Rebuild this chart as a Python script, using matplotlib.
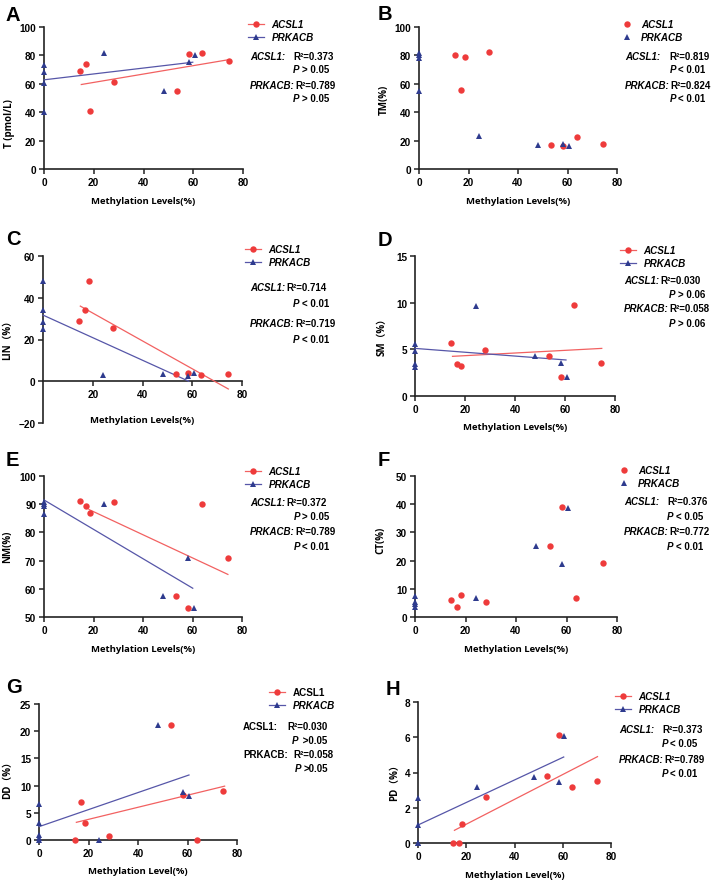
import matplotlib
matplotlib.use("Agg")
import matplotlib.pyplot as plt
from matplotlib.lines import Line2D

plt.rcParams["font.family"] = ["Liberation Sans", "DejaVu Sans"]
plt.rcParams["font.weight"] = "bold"

W, H = 714, 887
RED, BLUE = "#ee3b3b", "#2e3b8e"
RED_LINE, BLUE_LINE = "#f26161", "#5656a8"
LABEL_FONT = ["Open Sans", "Noto Sans CJK SC", "DejaVu Sans"]

# ---- data (methylation %, phenotype value) ----
acsl1_x = [14.4, 16.8, 18.4, 28.1, 53.4, 58.3, 63.7, 74.4]
prkacb_x = [0, 0, 0, 0, 24.3, 48.1, 58.3, 60.6]

A_acsl1 = [68.9, 73.6, 40.5, 61.4, 54.8, 80.7, 81.9, 75.8]
A_prkacb = [72.9, 68.2, 60.7, 39.8, 81.6, 54.6, 75.6, 80.5]
A_acsl1_fit = ([15.0, 74.3], [59.5, 77.0])
A_prkacb_fit = ([0.0, 59.8], [62.8, 75.2])

B_acsl1 = [80.0, 55.3, 78.6, 82.1, 16.9, 16.5, 22.8, 17.4]
B_prkacb = [81.6, 80.0, 78.1, 54.6, 23.0, 16.9, 17.4, 16.2]

C_acsl1 = [28.7, 34.2, 48.2, 25.3, 3.7, 4.0, 3.0, 3.3]
C_prkacb = [47.9, 34.2, 28.2, 25.0, 3.0, 3.5, 2.7, 4.0]
C_acsl1_fit = ([15.0, 74.5], [36.0, -3.7])
C_prkacb_fit = ([0.0, 58.6], [31.7, 0.0])

D_acsl1 = [5.7, 3.4, 3.2, 4.9, 4.3, 2.0, 9.7, 3.5]
D_prkacb = [5.6, 4.8, 3.4, 3.1, 9.6, 4.3, 3.5, 2.0]
D_acsl1_fit = ([15.0, 74.7], [4.25, 5.1])
D_prkacb_fit = ([0.0, 60.4], [5.1, 3.86])

E_acsl1 = [91.2, 89.5, 87.0, 90.9, 57.3, 53.2, 90.1, 70.8]
E_prkacb = [90.9, 90.0, 89.4, 86.6, 89.9, 57.3, 70.8, 53.2]
E_acsl1_fit = ([18.2, 74.3], [88.1, 65.1])
E_prkacb_fit = ([0.0, 60.1], [91.5, 60.2])

F_acsl1 = [6.0, 3.6, 7.9, 5.2, 25.3, 39.1, 6.8, 19.1]
F_prkacb = [7.6, 5.3, 4.5, 3.4, 6.7, 25.2, 18.9, 38.8]

G_acsl1 = [0.0, 6.9, 3.2, 0.7, 21.1, 8.2, 0.0, 9.0]
G_prkacb_x = [0, 0, 0, 0, 0, 24.3, 48.1, 58.3, 60.6]
G_prkacb = [6.7, 3.1, 0.9, 0.4, 0.0, 0.0, 21.1, 8.9, 8.1]
G_acsl1_fit = ([15.1, 75.0], [3.25, 9.9])
G_prkacb_fit = ([0.0, 60.6], [2.45, 11.95])

H_acsl1 = [0.0, 0.0, 1.1, 2.6, 3.8, 6.1, 3.2, 3.5]
H_prkacb = [2.55, 1.04, 0.0, 0.0, 3.2, 3.75, 3.48, 6.07]
H_acsl1_fit = ([15.1, 74.4], [0.72, 4.9])
H_prkacb_fit = ([0.0, 60.4], [1.02, 4.88])

fig = plt.figure(figsize=(W / 100, H / 100), dpi=100)
renderer = fig.canvas.get_renderer()


def fx(x):
    return x / W


def fy(y):
    return 1 - y / H


def panel(letter, box, xs, ys, xlabel, ylabel, ylim, yticks, fits, lab_pos,
          legend_pos, stats, gene_italic=True, xticks=(0, 20, 40, 60, 80), zero_axis=False):
    left, right, top, bottom = box
    ax = fig.add_axes([fx(left), fy(bottom), (right - left) / W, (bottom - top) / H])
    for s in ("top", "right"):
        ax.spines[s].set_visible(False)
    for s in ("left", "bottom"):
        ax.spines[s].set_linewidth(1.2)
        ax.spines[s].set_color("#222222")
    if zero_axis:
        ax.spines["bottom"].set_position(("data", 0))

    ax.plot(xs[0], ys[0], "o", color=RED, ms=4.6, mew=0, clip_on=False, zorder=4)
    ax.plot(xs[1], ys[1], "^", color=BLUE, ms=4.6, mew=0, clip_on=False, zorder=4)
    if fits:
        ax.plot(fits[0][0], fits[0][1], color=RED_LINE, lw=0.9, clip_on=False, zorder=3)
        ax.plot(fits[1][0], fits[1][1], color=BLUE_LINE, lw=0.9, clip_on=False, zorder=3)
    ax.set_xlim(0, 80)
    ax.set_ylim(*ylim)
    ax.set_xticks(list(xticks))
    ax.set_yticks(yticks)
    ax.tick_params(length=3.5, width=1.1, pad=2, color="#222222", labelsize=7.2)

    hpx = bottom - top
    wpx = right - left
    ax.set_xlabel(xlabel, fontfamily=LABEL_FONT, fontweight="bold", fontsize=6.8, va="center")
    ax.set_ylabel(ylabel, fontfamily=LABEL_FONT, fontweight="bold", fontsize=7.0, va="center")
    ax.xaxis.set_label_coords(0.5, -lab_pos[0] / hpx)
    ax.yaxis.set_label_coords(-lab_pos[1] / wpx, (bottom - lab_pos[2]) / hpx)

    fig.text(fx(letter[1]), fy(letter[2]), letter[0], fontsize=14.5, fontweight="bold",
             va="top", ha="left")

    # legend
    ls = "-" if fits else "none"
    handles = [
        Line2D([], [], color=RED_LINE, ls=ls, lw=0.9, marker="o", ms=4.6, mfc=RED, mec=RED, mew=0),
        Line2D([], [], color=BLUE_LINE, ls=ls, lw=0.9, marker="^", ms=4.6, mfc=BLUE, mec=BLUE, mew=0),
    ]
    leg = ax.legend(handles, ["ACSL1", "PRKACB"], loc="upper left",
                    bbox_to_anchor=(fx(legend_pos[0]), fy(legend_pos[1])),
                    bbox_transform=fig.transFigure, frameon=False, borderpad=0,
                    borderaxespad=0, handlelength=1.6 if fits else 1.1,
                    handletextpad=0.8, labelspacing=0.35,
                    prop=dict(weight="bold", size=7.1, style="italic"))
    if legend_pos[2]:
        leg.get_texts()[0].set_fontstyle("normal")

    # statistics text
    gx, rows = stats
    for name, r2, p, rx, px, yr, yp in rows:
        g = fig.text(fx(gx), fy(yr), name + ":", fontstyle="italic" if gene_italic else "normal",
                     fontsize=7.0, va="center")
        gend = g.get_window_extent(renderer).x1
        rx = max(rx, gend + 1)
        fig.text(fx(rx), fy(yr), "R²=" + r2, fontsize=7.0, va="center")
        fig.text(fx(px), fy(yp), "P", fontstyle="italic", fontsize=7.0, va="center")
        fig.text(fx(px + 8.5), fy(yp), p, fontsize=7.0, va="center")
    return ax


panel(("A", 6, 6), (44, 243, 28, 170), (acsl1_x, prkacb_x), (A_acsl1, A_prkacb),
      "Methylation Levels(%)", "T (pmol/L)", (0, 100), [0, 20, 40, 60, 80, 100],
      (A_acsl1_fit, A_prkacb_fit), (32, 34, 124), (248, 20, False),
      (250, [("ACSL1", "0.373", "> 0.05", 293, 293, 57, 70),
             ("PRKACB", "0.789", "> 0.05", 288, 293, 86, 99)]))

panel(("B", 378, 5), (419, 617, 28, 170), (acsl1_x, prkacb_x), (B_acsl1, B_prkacb),
      "Methylation Levels(%)", "TM(%)", (0, 100), [0, 20, 40, 60, 80, 100],
      None, (32, 35, 100), (622, 20, False),
      (625, [("ACSL1", "0.819", "< 0.01", 669, 670, 57, 70),
             ("PRKACB", "0.824", "< 0.01", 667, 670, 86, 99)]))

panel(("C", 6, 230), (43, 242, 257, 424), (acsl1_x, prkacb_x), (C_acsl1, C_prkacb),
      "Methylation Levels(%)", "LIN（%）", (-20, 60), [-20, 0, 20, 40, 60],
      (C_acsl1_fit, C_prkacb_fit), (-3, 35, 338), (245, 245, False),
      (250, [("ACSL1", "0.714", "< 0.01", 283, 293, 288, 304),
             ("PRKACB", "0.719", "< 0.01", 283, 293, 324, 340)]),
      xticks=(20, 40, 60, 80), zero_axis=True)

panel(("D", 378, 231), (415, 615, 257, 397), (acsl1_x, prkacb_x), (D_acsl1, D_prkacb),
      "Methylation Levels(%)", "SM（%）", (0, 15), [0, 5, 10, 15],
      (D_acsl1_fit, D_prkacb_fit), (31, 33, 335), (620, 246, False),
      (624, [("ACSL1", "0.030", "> 0.06", 659, 669, 281, 295),
             ("PRKACB", "0.058", "> 0.06", 657, 669, 309, 324)]))

panel(("E", 6, 451), (44, 242, 477, 618), (acsl1_x, prkacb_x), (E_acsl1, E_prkacb),
      "Methylation Levels(%)", "NM(%)", (50, 100), [50, 60, 70, 80, 90, 100],
      (E_acsl1_fit, E_prkacb_fit), (32, 36, 547), (245, 467, False),
      (250, [("ACSL1", "0.372", "> 0.05", 283, 294, 503, 517),
             ("PRKACB", "0.789", "< 0.01", 283, 294, 532, 547)]))

panel(("F", 378, 451), (415, 617, 477, 618), (acsl1_x, prkacb_x), (F_acsl1, F_prkacb),
      "Methylation Levels(%)", "CT(%)", (0, 50), [0, 10, 20, 30, 40, 50],
      None, (32, 34, 540), (619, 466, False),
      (624, [("ACSL1", "0.376", "< 0.05", 667, 667, 502, 517),
             ("PRKACB", "0.772", "< 0.01", 665, 667, 532, 547)]))

panel(("G", 6, 678), (39, 237, 705, 841), (acsl1_x, G_prkacb_x), (G_acsl1, G_prkacb),
      "Methylation Level(%)", "DD（%）", (0, 25), [0, 5, 10, 15, 20, 25],
      (G_acsl1_fit, G_prkacb_fit), (31, 31, 778), (269, 688, True),
      (243, [("ACSL1", "0.030", " >0.05", 287, 292, 727, 741),
             ("PRKACB", "0.058", ">0.05", 293, 295, 755, 769)]),
      gene_italic=False)

panel(("H", 386, 680), (418, 611, 703, 844), (acsl1_x, prkacb_x), (H_acsl1, H_prkacb),
      "Methylation Level(%)", "PD（%）", (0, 8), [0, 2, 4, 6, 8],
      (H_acsl1_fit, H_prkacb_fit), (32, 23, 780), (615, 692, False),
      (619, [("ACSL1", "0.373", "< 0.05", 662, 662, 730, 744),
             ("PRKACB", "0.789", "< 0.01", 662, 662, 760, 774)]))

fig.savefig("out.png", dpi=100)
